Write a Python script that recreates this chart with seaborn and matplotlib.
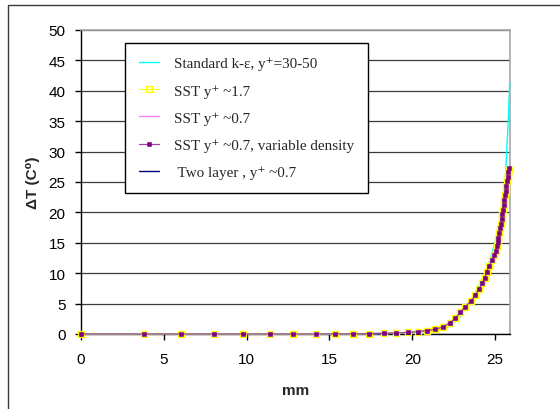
import matplotlib
matplotlib.use("Agg")
import matplotlib.pyplot as plt
from matplotlib.patches import Rectangle
from matplotlib.font_manager import FontProperties
import seaborn as sns
import pandas as pd

# ---- data ----
x_sst = [0, 3.81, 6.02, 8.0, 9.8, 11.4, 12.8, 14.16, 15.36, 16.44, 17.38, 18.27,
         18.99, 19.72, 20.34, 20.86, 21.39, 21.84, 22.29, 22.59, 22.91, 23.21,
         23.53, 23.80, 24.01, 24.22, 24.37, 24.49, 24.66, 24.82, 24.95, 25.05,
         25.10, 25.15, 25.20, 25.25, 25.30, 25.35, 25.40, 25.44, 25.48, 25.52,
         25.56, 25.60, 25.64, 25.68, 25.72, 25.76, 25.80, 25.84]
y_sst17 = [0, 0, 0, 0, 0, 0, 0, 0, 0.02, 0.03, 0.05, 0.1, 0.15, 0.25, 0.38, 0.54,
           0.77, 1.15, 1.86, 2.58, 3.57, 4.49, 5.38, 6.37, 7.35, 8.34, 9.26,
           10.25, 11.23, 12.17, 13.0, 13.7, 14.4, 15.1, 15.8, 16.6, 17.4, 18.1,
           18.9, 19.7, 20.4, 21.2, 22.0, 22.8, 23.5, 24.3, 25.1, 25.8, 26.4, 26.9]
y_sst07 = [0, 0, 0, 0, 0, 0, 0, 0, 0.02, 0.03, 0.05, 0.1, 0.15, 0.25, 0.38, 0.54,
           0.77, 1.15, 1.86, 2.58, 3.57, 4.49, 5.38, 6.37, 7.35, 8.34, 9.26,
           10.25, 11.23, 12.17, 13.0, 13.7, 14.4, 15.1, 15.8, 16.6, 17.4, 18.1,
           18.9, 19.7, 20.4, 21.2, 22.0, 22.8, 23.5, 24.3, 25.1, 25.8, 26.6, 27.3]
y_sst07vd = [0, 0, 0, 0, 0, 0, 0, 0, 0.02, 0.03, 0.05, 0.1, 0.15, 0.25, 0.38, 0.54,
             0.77, 1.15, 1.86, 2.58, 3.57, 4.49, 5.38, 6.37, 7.35, 8.34, 9.26,
             10.25, 11.23, 12.17, 13.0, 13.7, 14.4, 15.1, 15.8, 16.6, 17.4, 18.1,
             18.9, 19.7, 20.4, 21.2, 22.0, 22.8, 23.5, 24.3, 25.1, 25.8, 26.6, 27.3]
x_two = [0, 3.81, 6.02, 8.0, 9.8, 11.4, 12.8, 14.16, 15.36, 16.44, 17.38, 18.27,
         18.99, 19.72, 20.34, 20.86, 21.39, 21.84, 22.29, 22.59, 22.91, 23.21,
         23.53, 23.80, 24.01, 24.22, 24.37, 24.49, 24.66, 24.82, 24.95, 25.10,
         25.30, 25.50, 25.70, 25.84]
y_two = [0, 0, 0, 0, 0, 0, 0, 0, 0.02, 0.03, 0.05, 0.1, 0.15, 0.25, 0.38, 0.54,
         0.77, 1.15, 1.86, 2.58, 3.57, 4.49, 5.38, 6.37, 7.35, 8.34, 9.26,
         10.25, 11.23, 12.17, 13.0, 14.4, 17.4, 20.8, 24.7, 27.2]
x_ke = [0, 15.0, 19.0, 20.5, 21.5, 22.3, 22.9, 23.5, 24.1, 24.6, 25.0, 25.4,
        25.6, 25.70, 25.80, 25.88]
y_ke = [0, 0, 0.1, 0.3, 0.6, 1.3, 2.9, 5.4, 8.3, 11.5, 15.0, 20.0, 24.5, 30.0,
        35.5, 41.4]

labels = ["Standard k-\u03b5, y\u207a=30-50", "SST y\u207a ~1.7", "SST y\u207a ~0.7",
          "SST y\u207a ~0.7, variable density", " Two layer , y\u207a ~0.7"]
xticks = [0, 5, 10, 15, 20, 25]
yticks = [0, 5, 10, 15, 20, 25, 30, 35, 40, 45, 50]

sns.set_style("white")
plt.rcParams['font.family'] = ['Liberation Sans', 'DejaVu Sans']

fig = plt.figure(figsize=(5.6, 4.1), dpi=100)
W, H = 560, 410
ax = fig.add_axes([81 / W, 1 - 335 / H, 429 / W, 304 / H])

# outer chart frame (cropped at right/bottom)
fig.add_artist(Rectangle((8 / W, -0.2), 1.5, 1.2 - 6 / H, transform=fig.transFigure,
                         fill=False, ec='#3a3a3a', lw=1.0, zorder=0))

df_ke = pd.DataFrame({"x": x_ke, "y": y_ke})
df_s17 = pd.DataFrame({"x": x_sst, "y": y_sst17})
df_s07 = pd.DataFrame({"x": x_sst, "y": y_sst07})
df_svd = pd.DataFrame({"x": x_sst, "y": y_sst07vd})
df_two = pd.DataFrame({"x": x_two, "y": y_two})

common = dict(x="x", y="y", sort=False, estimator=None, ax=ax, clip_on=False)
sns.lineplot(data=df_ke, color='#00FFFF', lw=1.0, label=labels[0], zorder=4, **common)
sns.lineplot(data=df_s17, color='#FFFF00', lw=0.8, marker='s', markersize=3.8,
             markerfacecolor='none', markeredgecolor='#FFFF00', markeredgewidth=1.0,
             label=labels[1], zorder=5, **common)
sns.lineplot(data=df_s07, color='#FF80FF', lw=1.0, label=labels[2], zorder=3, **common)
sns.lineplot(data=df_svd, color='#A040A0', lw=0.9, marker='s', markersize=2.2,
             markerfacecolor='#800080', markeredgecolor='#800080', markeredgewidth=0.4,
             label=labels[3], zorder=6, **common)
sns.lineplot(data=df_two, color='#000080', lw=1.0, label=labels[4], zorder=2.5, **common)

ax.set_xlim(0, 25.9)
ax.set_ylim(0, 50)
ax.set_xticks(xticks)
ax.set_yticks(yticks)
ax.grid(axis='y', color='#3c3c3c', lw=0.9)
ax.grid(axis='x', visible=False)
ax.set_axisbelow(True)

for s in ['top', 'right']:
    ax.spines[s].set_color('#a8a8a8')
    ax.spines[s].set_linewidth(1.2)
ax.spines['left'].set_color('#000000')
ax.spines['bottom'].set_color('#000000')
ax.spines['left'].set_linewidth(1.0)
ax.spines['bottom'].set_linewidth(1.0)

ax.tick_params(axis='both', which='major', direction='out', length=4, width=1,
               color='#000000', labelsize=11, labelcolor='#000000')
ax.tick_params(axis='x', pad=9, bottom=True)
ax.tick_params(axis='y', pad=7, left=True)

ax.set_xlabel("mm", fontsize=11, fontweight='bold', labelpad=12)
ax.set_ylabel("\u0394T (C\u2070)", fontsize=11, fontweight='bold',
              family=['Liberation Sans', 'DejaVu Sans'])
ax.yaxis.set_label_coords(-0.096, 0.5)

leg_font = FontProperties(family=['Liberation Serif', 'DejaVu Serif'], size=10.9)
leg = ax.legend(loc='upper left', bbox_to_anchor=(0.1026, 0.957), prop=leg_font,
                frameon=True, fancybox=False, shadow=False, framealpha=1,
                edgecolor='#000000', handlelength=1.35, handletextpad=1.0,
                labelspacing=0.9, borderpad=0.9, borderaxespad=0)
leg.get_frame().set_linewidth(1.0)
leg.set_zorder(10)

fig.savefig("out.png", dpi=100)
